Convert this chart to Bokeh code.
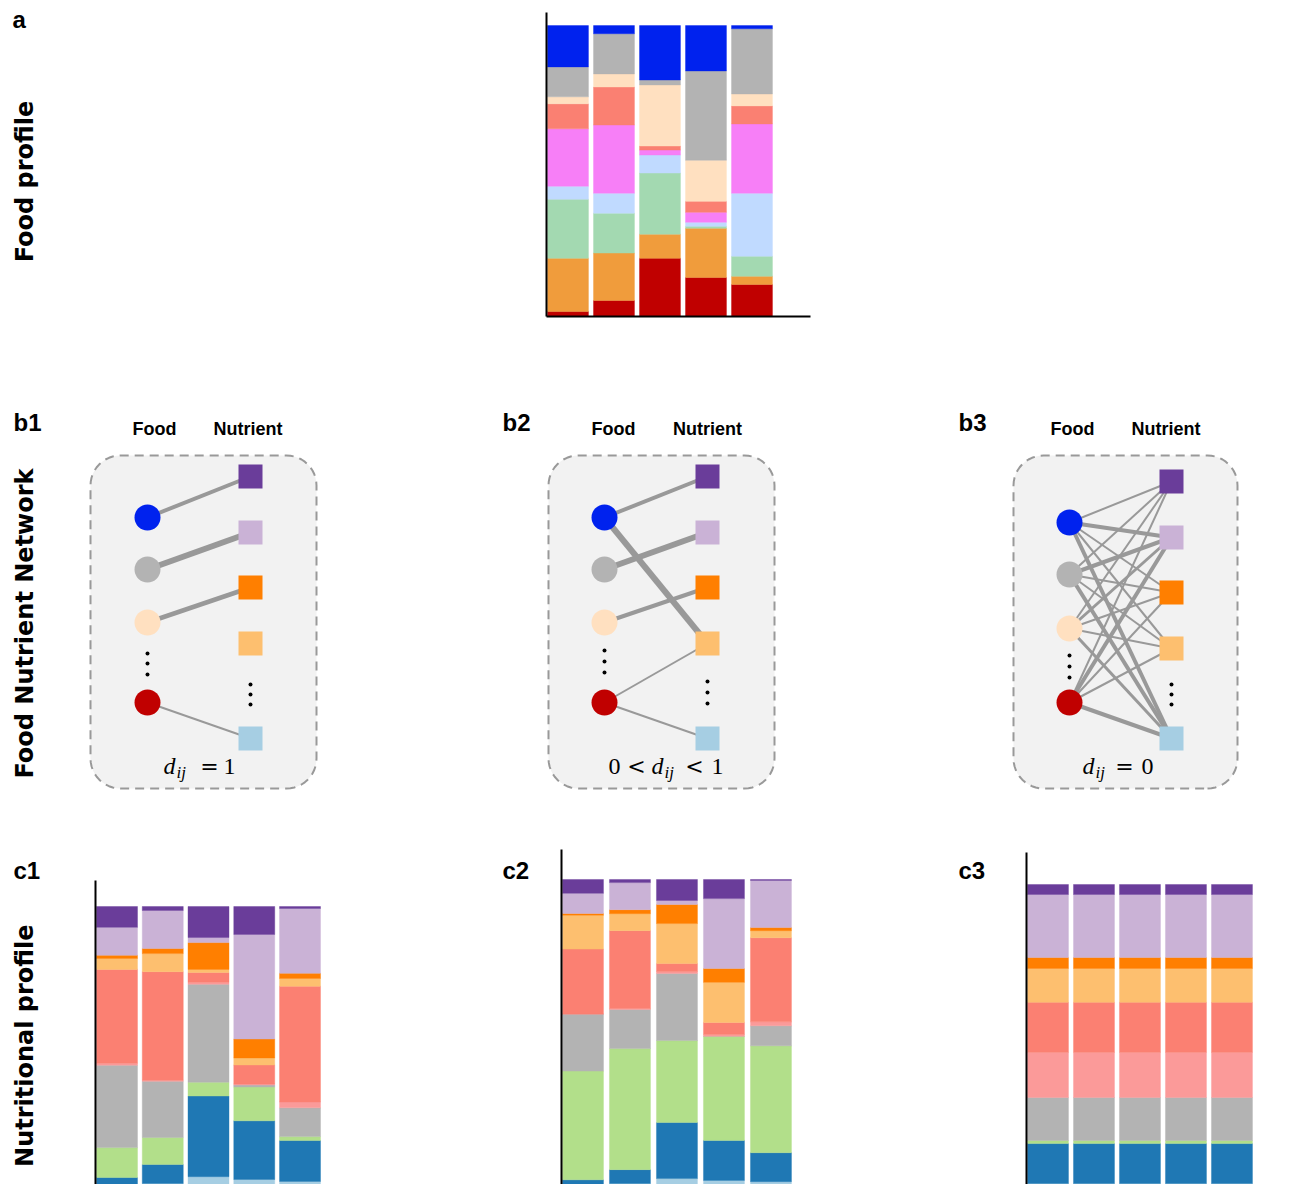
import math
from bokeh.plotting import figure
from bokeh.layouts import row, column
from bokeh.models import Range1d, FixedTicker, ColumnDataSource
from bokeh.core.properties import value
from bokeh.embed import file_html
from bokeh.resources import INLINE

# ======================= DATA =======================
samples = [1, 2, 3, 4, 5]

# Panel a: food profile, share (%) of each food group per sample, bottom -> top
food_groups = ["g_red", "g_orange", "g_green", "g_lightblue", "g_magenta",
               "g_salmon", "g_peach", "g_gray", "g_blue"]
food_colors = ["#c00000", "#f09c3c", "#a3d9b1", "#c0daff", "#f77ff7",
               "#fa8072", "#ffe0c0", "#b3b3b3", "#0022ee"]
g_red       = [1.7, 5.5, 20.0, 13.4, 11.0]
g_orange    = [18.3, 16.3, 8.3, 16.9, 2.8]
g_green     = [20.3, 13.7, 21.0, 0.7, 6.9]
g_lightblue = [4.5, 6.9, 6.2, 1.4, 21.7]
g_magenta   = [19.7, 23.4, 1.7, 3.4, 23.8]
g_salmon    = [8.6, 13.1, 1.4, 3.8, 6.2]
g_peach     = [2.4, 4.5, 21.0, 14.1, 4.1]
g_gray      = [10.3, 13.8, 1.7, 30.7, 22.4]
g_blue      = [14.2, 2.8, 18.7, 15.6, 1.1]

# Panels c: nutritional profile (%), nutrients bottom -> top
nutrient_names = ["n_lightblue", "n_blue", "n_green", "n_gray", "n_pink",
                  "n_salmon", "n_lightorange", "n_orange", "n_lavender", "n_purple"]
nutrient_colors = ["#a6cee3", "#1f78b4", "#b2df8a", "#b3b3b3", "#fb9a99",
                   "#fb8072", "#fdbf6f", "#ff7f00", "#cab2d6", "#6a3d9a"]
c1_bars = [
    [0.7, 3.2, 10.6, 29.2, 0.7, 33.3, 3.9, 1.1, 9.9, 7.4],
    [1.8, 6.7, 9.6, 19.9, 0.4, 38.5, 6.4, 1.8, 13.5, 1.4],
    [4.2, 28.6, 4.9, 34.7, 0.7, 3.5, 1.1, 9.5, 1.8, 11.0],
    [3.2, 20.8, 12.0, 0.7, 0.4, 6.7, 2.5, 6.7, 37.1, 9.9],
    [2.5, 14.5, 1.4, 10.2, 2.1, 41.0, 2.8, 1.8, 23.0, 0.7],
]
c2_bars = [
    [0.6, 1.9, 35.3, 18.5, 0.0, 21.1, 11.0, 0.6, 6.5, 4.5],
    [1.3, 4.5, 39.3, 12.7, 0.3, 25.3, 5.5, 1.3, 8.8, 1.0],
    [2.9, 18.2, 26.6, 21.8, 0.6, 2.6, 13.0, 6.2, 1.3, 6.8],
    [2.3, 13.0, 33.8, 0.0, 0.6, 3.9, 13.0, 4.5, 22.7, 6.2],
    [1.9, 9.4, 34.7, 6.5, 1.3, 27.3, 2.3, 1.0, 15.3, 0.3],
]
c3_bars = [
    [1.3, 13.2, 1.0, 14.2, 14.9, 16.5, 11.2, 3.6, 20.8, 3.3],
    [1.3, 13.2, 1.0, 14.2, 14.9, 16.5, 11.2, 3.6, 20.8, 3.3],
    [1.3, 13.2, 1.0, 14.2, 14.9, 16.5, 11.2, 3.6, 20.8, 3.3],
    [1.3, 13.2, 1.0, 14.2, 14.9, 16.5, 11.2, 3.6, 20.8, 3.3],
    [1.3, 13.2, 1.0, 14.2, 14.9, 16.5, 11.2, 3.6, 20.8, 3.3],
]

# Network panels: food nodes (circles) and nutrient nodes (squares)
net_food_colors = ["#0022ee", "#b3b3b3", "#ffe0c0", "#c00000"]
net_nutrient_colors = ["#6a3d9a", "#cab2d6", "#ff7f00", "#fdbf6f", "#a6cee3"]
# edges: (food index, nutrient index, line width)
b1_src, b1_dst, b1_w = [0, 1, 2, 3], [0, 1, 2, 4], [4, 6, 4.5, 2]
b2_src, b2_dst, b2_w = [0, 0, 1, 2, 3, 3], [0, 3, 1, 2, 3, 4], [4, 6, 6, 4, 2, 2]
b3_weights = [
    [2, 4, 2, 2, 4],
    [2, 4, 2, 2, 4],
    [2, 3, 2, 2, 3],
    [2, 4, 2, 2, 4],
]

# ======================= HELPERS =======================
FONT = "Liberation Sans"
BIG = "DejaVu Sans"
SERIF = "Liberation Serif"


def canvas(px0, px1, py0, py1):
    """A blank figure whose coordinates are page pixels (y negated)."""
    p = figure(width=px1 - px0, height=py1 - py0,
               x_range=Range1d(px0, px1), y_range=Range1d(-py1, -py0),
               output_backend="svg", toolbar_location=None, frame_align=False,
               x_axis_location=None, y_axis_location=None, min_border=0)
    p.grid.visible = False
    p.outline_line_color = None
    return p


def add_text(p, x, y, s, size, style="bold", font=FONT, align="left", angle=0.0):
    """y is the alphabetic baseline; drawn with a 'middle' anchor."""
    ym = y - 0.35 * size
    p.text(x=[x], y=[-ym], text=[s], text_font=value(font),
           text_font_size=value(f"{size}px"), text_font_style=style,
           text_align=align, text_baseline="middle", angle=angle,
           text_color="black")


def add_vtext(p, x, y, s, size):
    p.text(x=[x], y=[-y], text=[s], text_font=value(BIG),
           text_font_size=value(f"{size}px"), text_font_style="bold",
           text_align="center", text_baseline="middle", angle=math.pi / 2,
           text_color="black")


def style_axis(ax):
    ax.ticker = FixedTicker(ticks=[])
    ax.major_label_text_font_size = "0px"
    ax.major_label_standoff = 0
    ax.major_tick_in = 0
    ax.major_tick_out = 0
    ax.minor_tick_in = 0
    ax.minor_tick_out = 0
    ax.axis_line_width = 2
    ax.axis_line_color = "black"


def bar_fig(width, height, xr, yr, borders, below):
    p = figure(width=width, height=height, x_range=Range1d(*xr), y_range=Range1d(*yr),
               output_backend="svg", toolbar_location=None, frame_align=False,
               x_axis_location="below" if below else None, y_axis_location="left",
               min_border_left=borders[0], min_border_right=borders[1],
               min_border_top=borders[2], min_border_bottom=borders[3])
    p.grid.visible = False
    p.outline_line_color = None
    for ax in p.axis:
        style_axis(ax)
    return p


def stacked(p, bars, names, colors, bar_width):
    data = {"x": samples}
    for j, n in enumerate(names):
        data[n] = [b[j] for b in bars]
    src = ColumnDataSource(data)
    p.vbar_stack(names, x="x", width=bar_width, fill_color=colors,
                 line_color=colors, line_width=0.4, source=src)


# ======================= ROW 1 : panel a =======================
la = canvas(0, 540, 0, 326)
add_text(la, 12, 27, "a", 24)
add_vtext(la, 24, 181, "Food profile", 24)

pa = bar_fig(274, 326, (0.533, 6.272), (0, 104.5), (6, 4, 12, 10), True)
src_a = ColumnDataSource(dict(x=samples, g_red=g_red, g_orange=g_orange, g_green=g_green,
                              g_lightblue=g_lightblue, g_magenta=g_magenta, g_salmon=g_salmon,
                              g_peach=g_peach, g_gray=g_gray, g_blue=g_blue))
pa.vbar_stack(food_groups, x="x", width=0.89, fill_color=food_colors,
              line_color=food_colors, line_width=0.4, source=src_a)

# ======================= ROW 2 : networks =======================
net = canvas(0, 1292, 326, 840)


def rounded_box(x0, x1, y0, y1, r, n=12):
    xs, ys = [], []
    corners = [(x1 - r, y0 + r, 270), (x1 - r, y1 - r, 0),
               (x0 + r, y1 - r, 90), (x0 + r, y0 + r, 180)]
    for cx, cy, a0 in corners:
        for k in range(n + 1):
            a = math.radians(a0 + 90 * k / n)
            xs.append(cx + r * math.cos(a))
            ys.append(cy + r * math.sin(a))
    return xs, ys


panels = [
    dict(box=(90, 316), fx=147, nx=250, fy=[517, 569, 622, 702],
         ny=[476, 532, 587, 643, 738], hf=154, hn=247.5,
         fdots=[653, 663, 674], ndots=[684, 694, 704], label="b1", lx=13),
    dict(box=(548, 774), fx=604, nx=707, fy=[517, 569, 622, 702],
         ny=[476, 532, 587, 643, 738], hf=613, hn=707,
         fdots=[650, 661, 672], ndots=[681, 692, 703], label="b2", lx=502),
    dict(box=(1013, 1237), fx=1069, nx=1171, fy=[522, 574, 628, 702],
         ny=[481, 537, 592, 648, 738], hf=1072, hn=1165.5,
         fdots=[655, 666, 677], ndots=[684, 694, 704], label="b3", lx=958),
]

b3_src, b3_dst, b3_w = [], [], []
for i, rw in enumerate(b3_weights):
    for j, w in enumerate(rw):
        b3_src.append(i)
        b3_dst.append(j)
        b3_w.append(w)
edges = [(b1_src, b1_dst, b1_w), (b2_src, b2_dst, b2_w), (b3_src, b3_dst, b3_w)]

for P, (es, ed, ew) in zip(panels, edges):
    bx, by = rounded_box(P["box"][0], P["box"][1], -788, -455, 30)
    net.patch(bx, by, fill_color="#f2f2f2", line_color="#999999",
              line_width=2, line_dash="9 6")
    net.segment(x0=[P["fx"]] * len(es), y0=[-P["fy"][i] for i in es],
                x1=[P["nx"]] * len(ed), y1=[-P["ny"][j] for j in ed],
                line_width=ew, line_color="#999999")
    net.scatter(x=[P["fx"]] * 4, y=[-v for v in P["fy"]], marker="circle", size=26,
                fill_color=net_food_colors, line_color=None)
    net.scatter(x=[P["nx"]] * 5, y=[-v for v in P["ny"]], marker="square", size=24,
                fill_color=net_nutrient_colors, line_color=None)
    net.scatter(x=[P["fx"]] * 3, y=[-v for v in P["fdots"]], marker="circle", size=4,
                fill_color="black", line_color=None)
    net.scatter(x=[P["nx"]] * 3, y=[-v for v in P["ndots"]], marker="circle", size=4,
                fill_color="black", line_color=None)
    add_text(net, P["hf"], 435, "Food", 18, align="center")
    add_text(net, P["hn"], 435, "Nutrient", 18, align="center")
    add_text(net, P["lx"], 430, P["label"], 24)

add_vtext(net, 24, 623, "Food Nutrient Network", 24)

# formula labels d_ij
def sub_formula(p, parts):
    for x, y, s, size, style, font, align in parts:
        add_text(p, x, y, s, size, style=style, font=font, align=align)

sub_formula(net, [
    (163, 774, "d", 24, "italic", SERIF, "left"),
    (176, 778, "ij", 17, "italic", SERIF, "left"),
    (209, 774, "=", 22, "normal", "DejaVu Serif", "center"),
    (229, 774, "1", 24, "normal", SERIF, "center"),
])
sub_formula(net, [
    (614, 774, "0", 24, "normal", SERIF, "center"),
    (636, 774, "<", 22, "normal", "DejaVu Serif", "center"),
    (651, 774, "d", 24, "italic", SERIF, "left"),
    (664, 778, "ij", 17, "italic", SERIF, "left"),
    (694, 774, "<", 22, "normal", "DejaVu Serif", "center"),
    (717, 774, "1", 24, "normal", SERIF, "center"),
])
sub_formula(net, [
    (1082, 774, "d", 24, "italic", SERIF, "left"),
    (1095, 778, "ij", 17, "italic", SERIF, "left"),
    (1124, 774, "=", 22, "normal", "DejaVu Serif", "center"),
    (1147, 774, "0", 24, "normal", SERIF, "center"),
])

# ======================= ROW 3 : panels c =======================
lc1 = canvas(0, 89, 840, 1184)
add_text(lc1, 13, 878, "c1", 24)
add_vtext(lc1, 24, 1041, "Nutritional  profile", 24)

pc1 = bar_fig(236, 344, (0.53, 5.557), (1.418, 109.22), (6, 0, 40, 0), False)
stacked(pc1, c1_bars, nutrient_names, nutrient_colors, 0.896)

lc2 = canvas(325, 555, 840, 1184)
add_text(lc2, 502, 878, "c2", 24)

pc2 = bar_fig(240, 344, (0.543, 5.522), (0.974, 109.74), (6, 0, 9, 0), False)
stacked(pc2, c2_bars, nutrient_names, nutrient_colors, 0.872)

lc3 = canvas(795, 1020, 840, 1184)
add_text(lc3, 958, 878, "c3", 24)

pc3 = bar_fig(272, 344, (0.533, 6.316), (0.99, 110.56), (6, 0, 12, 0), False)
stacked(pc3, c3_bars, nutrient_names, nutrient_colors, 0.891)

layout = column(row(la, pa), net, row(lc1, pc1, lc2, pc2, lc3, pc3))

open("out.html", "w").write(file_html(layout, INLINE))
